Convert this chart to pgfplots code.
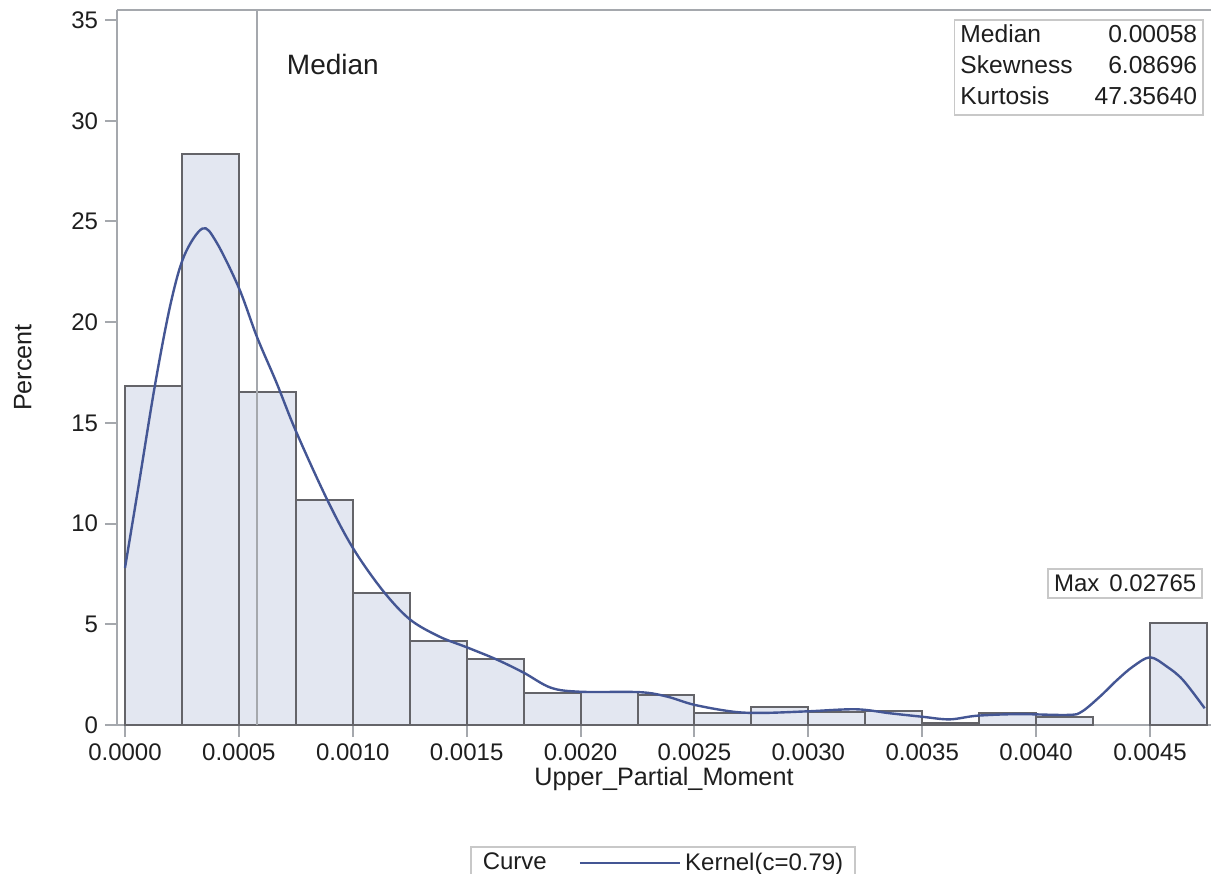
\documentclass[border=0pt]{standalone}
\usepackage{fontspec}
\setmainfont{Liberation Sans}
\usepackage{pgfplots}
\pgfplotsset{compat=1.18}
\definecolor{barfill}{RGB}{227,231,241}
\definecolor{baredge}{RGB}{100,100,105}
\definecolor{axcol}{RGB}{165,168,173}
\definecolor{curvecol}{RGB}{68,86,148}
\definecolor{txt}{RGB}{30,30,30}
\definecolor{boxcol}{RGB}{200,200,200}
\newcommand{\tf}{\fontsize{12bp}{14bp}\selectfont}
\pgfplotsset{longline/.style={legend image code/.code={\draw[##1] (0bp,0bp) -- (50bp,0bp);}}}
\begin{document}
\begin{tikzpicture}
\begin{axis}[name=ax, scale only axis, width=547bp, height=357.5bp,
  xmin=-0.0000351, xmax=0.0047678, ymin=0, ymax=35.5,
  axis x line*=box, axis y line*=left,
  axis line style={axcol, line width=1bp},
  xtick={0,0.0005,0.001,0.0015,0.002,0.0025,0.003,0.0035,0.004,0.0045},
  ytick={0,5,10,15,20,25,30,35},
  tick align=outside, major tick length=6bp,
  tick style={axcol, line width=1bp},
  xtick pos=lower, ytick pos=left,
  scaled x ticks=false,
  xticklabel={\pgfmathprintnumber[fixed,fixed zerofill,precision=4]{\tick}},
  /pgf/number format/assume math mode=true,
  tick label style={font=\tf, text=txt},
  xlabel={Upper\_Partial\_Moment}, ylabel={Percent},
  label style={font=\fontsize{12.6bp}{14bp}\selectfont, text=txt},
  xlabel style={yshift=3.5bp},
  ylabel style={yshift=13bp},
  clip=false,
  legend columns=2,
  legend style={at={(0.5,0)}, anchor=north, xshift=-0.5bp, yshift=-60.5bp, draw=boxcol, line width=0.8bp,
    font=\tf, text=txt, inner ysep=1bp, inner xsep=4bp,
    /tikz/every even column/.append style={column sep=14bp}},
]
% histogram
\addplot[ybar interval, fill=barfill, draw=baredge, line width=1bp, forget plot] coordinates {
(0,16.85) (0.00025,28.35) (0.0005,16.55) (0.00075,11.15) (0.001,6.55)
(0.00125,4.17) (0.0015,3.28) (0.00175,1.6) (0.002,1.65) (0.00225,1.49)
(0.0025,0.58) (0.00275,0.88) (0.003,0.66) (0.00325,0.7) (0.0035,0.08)
(0.00375,0.58) (0.004,0.41) (0.00425,0.41)};
\addplot[ybar interval, fill=barfill, draw=baredge, line width=1bp, forget plot] coordinates {
(0.0045,5.05) (0.00475,5.05)};
% median line
\addplot[axcol, line width=1bp, forget plot] coordinates {(0.00058,0) (0.00058,35.5)};
\addlegendimage{empty legend}
\addlegendentry{Curve}
\addplot[curvecol, line width=1.2bp, smooth, tension=0.55, longline] coordinates {
(0,7.8) (0.00006,11.9) (0.000132,16.9)
(0.0002,20.9) (0.00026,23.3) (0.00034,24.65) (0.0004,24.0)
(0.0005,21.7) (0.00058,19.25) (0.000665,17.0) (0.00075,14.6)
(0.000885,11.25) (0.001,8.8) (0.00113,6.7)
(0.00125,5.25) (0.00138,4.39) (0.0015,3.86) (0.00163,3.26) (0.00175,2.6)
(0.00187,1.85) (0.002,1.65) (0.00226,1.63)
(0.00238,1.41) (0.0025,1.0) (0.00267,0.66) (0.0028,0.6)
(0.003,0.68) (0.00321,0.78) (0.00336,0.58) (0.0035,0.41)
(0.00362,0.28) (0.00374,0.46) (0.00392,0.54) (0.00414,0.5) (0.0042,0.66)
(0.00428,1.41) (0.004355,2.23) (0.004425,2.9) (0.0045,3.36) (0.004574,2.9)
(0.004645,2.23) (0.00474,0.83)};
\addlegendentry{Kernel(c=0.79)}
\node[anchor=west, font=\fontsize{14bp}{16bp}\selectfont, text=txt] at (axis cs:0.00068,32.8) {Median};
\node[anchor=north east, draw=boxcol, line width=0.8bp, fill=white, inner xsep=3bp, inner ysep=0.5bp, font=\fontsize{12.3bp}{15.5bp}\selectfont, text=txt]
  at (rel axis cs:0.9936,0.987) {\begin{tabular}{@{}l@{\hspace{11bp}}r@{}}Median & 0.00058\\ Skewness & 6.08696\\ Kurtosis & 47.35640\end{tabular}};
\node[anchor=north east, draw=boxcol, line width=0.8bp, fill=white, inner sep=3bp, font=\tf, text=txt]
  at (rel axis cs:0.9927,0.2196) {Max\hspace{5bp}0.02765};
\end{axis}
\pgfresetboundingbox
\path[use as bounding box] ([xshift=-58.5bp,yshift=-74.5bp]ax.south west) rectangle ([yshift=5bp]ax.north east);
\end{tikzpicture}
\end{document}
